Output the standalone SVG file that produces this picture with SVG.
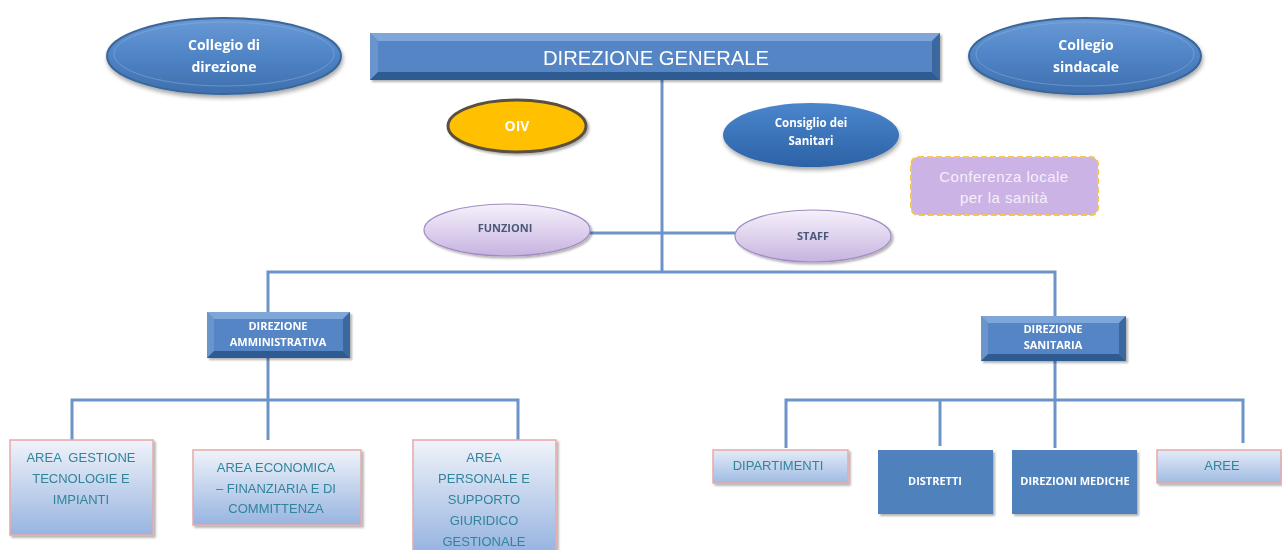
<svg xmlns="http://www.w3.org/2000/svg" width="1282" height="550" viewBox="0 0 1282 550">
<defs>
<linearGradient id="gBlueEll" x1="0" y1="0" x2="0" y2="1">
<stop offset="0" stop-color="#6a9ad6"/><stop offset="0.5" stop-color="#4f84c6"/><stop offset="1" stop-color="#3f6fae"/>
</linearGradient>
<linearGradient id="gBlueDark" x1="0" y1="0" x2="0" y2="1">
<stop offset="0" stop-color="#4b86cc"/><stop offset="1" stop-color="#2c62a6"/>
</linearGradient>
<linearGradient id="gLav" x1="0" y1="0" x2="0" y2="1">
<stop offset="0" stop-color="#f6f1fb"/><stop offset="1" stop-color="#c7b3e0"/>
</linearGradient>
<linearGradient id="gArea" x1="0" y1="0" x2="0" y2="1">
<stop offset="0" stop-color="#f0f3fa"/><stop offset="1" stop-color="#97b4e0"/>
</linearGradient>
<linearGradient id="gAreaS" x1="0" y1="0" x2="0" y2="1">
<stop offset="0" stop-color="#e4ebf7"/><stop offset="1" stop-color="#9fbbe3"/>
</linearGradient>
<filter id="sh" x="-20%" y="-20%" width="140%" height="150%">
<feDropShadow dx="1" dy="3" stdDeviation="2" flood-color="#000" flood-opacity="0.35"/>
</filter>
<filter id="shs" x="-10%" y="-10%" width="130%" height="130%">
<feDropShadow dx="2" dy="2" stdDeviation="1.2" flood-color="#000" flood-opacity="0.3"/>
</filter>
</defs>
<style>
.ln{fill:none;stroke:#6c94c8;stroke-width:3}
.tw{fill:#ffffff;font-family:"Open Sans","Liberation Sans",sans-serif;font-weight:bold;text-anchor:middle}
.tf{fill:#4a5878;font-family:"Open Sans","Liberation Sans",sans-serif;font-weight:bold;text-anchor:middle;font-size:11px}
.ta{fill:#31849b;font-family:"Liberation Sans",sans-serif;text-anchor:middle;font-size:13px;white-space:pre}
.area{fill:url(#gArea);stroke:#e7a9a9;stroke-width:1.5}
.bev-c{fill:#5585c4}
.bev-t{fill:#7ea6d9}
.bev-l{fill:#6a95cc}
.bev-b{fill:#2e5c92}
.bev-r{fill:#3a689f}
</style>
<rect width="1282" height="550" fill="#ffffff"/>

<g id="connectors">
<line class="ln" x1="662" y1="80" x2="662" y2="273"/>
<line class="ln" x1="590" y1="233" x2="737" y2="233"/>
<polyline class="ln" points="268,312 268,272 1055,272 1055,316"/>
<line class="ln" x1="268" y1="358" x2="268" y2="440"/>
<polyline class="ln" points="72,440 72,400 518,400 518,440"/>
<line class="ln" x1="1055" y1="361" x2="1055" y2="448"/>
<polyline class="ln" points="786,448 786,400 1243,400 1243,443"/>
<line class="ln" x1="940" y1="400" x2="940" y2="446"/>
</g>

<g id="collegio-direzione" filter="url(#sh)">
<ellipse cx="224" cy="56" rx="117" ry="38" fill="url(#gBlueEll)" stroke="#3b6698" stroke-width="2"/>
<ellipse cx="224" cy="54" rx="110" ry="32" fill="none" stroke="#8cb2e2" stroke-width="1" opacity="0.5"/>
<text class="tw" x="224" y="50" font-size="14">Collegio di</text>
<text class="tw" x="224" y="72" font-size="14">direzione</text>
</g>

<g id="direzione-generale" filter="url(#shs)">
<rect class="bev-c" x="370" y="33" width="570" height="47"/>
<polygon class="bev-t" points="370,33 940,33 932,41 378,41"/>
<polygon class="bev-l" points="370,33 378,41 378,72 370,80"/>
<polygon class="bev-b" points="370,80 940,80 932,72 378,72"/>
<polygon class="bev-r" points="940,33 940,80 932,72 932,41"/>
<text x="656" y="65" font-size="21" fill="#ffffff" text-anchor="middle" font-family="'Liberation Sans',sans-serif" textLength="226" lengthAdjust="spacingAndGlyphs">DIREZIONE GENERALE</text>
</g>

<g id="collegio-sindacale" filter="url(#sh)">
<ellipse cx="1085" cy="56" rx="116" ry="38" fill="url(#gBlueEll)" stroke="#3b6698" stroke-width="2"/>
<ellipse cx="1085" cy="54" rx="109" ry="32" fill="none" stroke="#8cb2e2" stroke-width="1" opacity="0.5"/>
<text class="tw" x="1086" y="50" font-size="14">Collegio</text>
<text class="tw" x="1086" y="72" font-size="14">sindacale</text>
</g>

<g id="oiv" filter="url(#shs)">
<ellipse cx="517" cy="126" rx="69" ry="26" fill="#ffc000" stroke="#5a5040" stroke-width="3"/>
<text class="tw" x="517" y="131" font-size="14">OIV</text>
</g>

<g id="consiglio-sanitari" filter="url(#sh)">
<ellipse cx="811" cy="135" rx="88" ry="32" fill="url(#gBlueDark)"/>
<text class="tw" x="811" y="127" font-size="11.5">Consiglio dei</text>
<text class="tw" x="811" y="145" font-size="11.5">Sanitari</text>
</g>

<g id="conferenza">
<rect x="911" y="157" width="187" height="58" rx="7" fill="#ccb3e6" stroke="#f6c64e" stroke-width="2" stroke-dasharray="6,3"/>
<text x="1004" y="182" font-size="15" fill="#f4f0f8" text-anchor="middle" font-family="'Liberation Sans',sans-serif" letter-spacing="0.5">Conferenza locale</text>
<text x="1004" y="203" font-size="15" fill="#f4f0f8" text-anchor="middle" font-family="'Liberation Sans',sans-serif" letter-spacing="0.5">per la sanità</text>
</g>

<g id="funzioni" filter="url(#shs)">
<ellipse cx="507" cy="230" rx="83" ry="26" fill="url(#gLav)" stroke="#a08cc4" stroke-width="1.2"/>
<text class="tf" x="505" y="232">FUNZIONI</text>
</g>

<g id="staff" filter="url(#shs)">
<ellipse cx="813" cy="236" rx="78" ry="26" fill="url(#gLav)" stroke="#a08cc4" stroke-width="1.2"/>
<text class="tf" x="813" y="240">STAFF</text>
</g>

<g id="direzione-amministrativa" filter="url(#shs)">
<rect class="bev-c" x="207" y="312" width="143" height="46"/>
<polygon class="bev-t" points="207,312 350,312 343,319 214,319"/>
<polygon class="bev-l" points="207,312 214,319 214,351 207,358"/>
<polygon class="bev-b" points="207,358 350,358 343,351 214,351"/>
<polygon class="bev-r" points="350,312 350,358 343,351 343,319"/>
<text class="tw" x="278" y="330" font-size="11">DIREZIONE</text>
<text class="tw" x="278" y="346" font-size="11">AMMINISTRATIVA</text>
</g>

<g id="direzione-sanitaria" filter="url(#shs)">
<rect class="bev-c" x="981" y="316" width="145" height="45"/>
<polygon class="bev-t" points="981,316 1126,316 1119,323 988,323"/>
<polygon class="bev-l" points="981,316 988,323 988,354 981,361"/>
<polygon class="bev-b" points="981,361 1126,361 1119,354 988,354"/>
<polygon class="bev-r" points="1126,316 1126,361 1119,354 1119,323"/>
<text class="tw" x="1053" y="333" font-size="11">DIREZIONE</text>
<text class="tw" x="1053" y="349" font-size="11">SANITARIA</text>
</g>

<g id="area-gestione" filter="url(#shs)">
<rect class="area" x="10" y="440" width="143" height="95"/>
<text class="ta" x="81" y="462" xml:space="preserve">AREA  GESTIONE</text>
<text class="ta" x="81" y="483">TECNOLOGIE E</text>
<text class="ta" x="81" y="504">IMPIANTI</text>
</g>

<g id="area-economica" filter="url(#shs)">
<rect class="area" x="193" y="450" width="168" height="75"/>
<text class="ta" x="276" y="472">AREA ECONOMICA</text>
<text class="ta" x="276" y="493">– FINANZIARIA E DI</text>
<text class="ta" x="276" y="513">COMMITTENZA</text>
</g>

<g id="area-personale" filter="url(#shs)">
<rect class="area" x="413" y="440" width="143" height="112"/>
<text class="ta" x="484" y="462">AREA</text>
<text class="ta" x="484" y="483">PERSONALE E</text>
<text class="ta" x="484" y="504">SUPPORTO</text>
<text class="ta" x="484" y="525">GIURIDICO</text>
<text class="ta" x="484" y="546">GESTIONALE</text>
</g>

<g id="dipartimenti" filter="url(#shs)">
<rect x="713" y="450" width="135" height="33" fill="url(#gAreaS)" stroke="#e7a9a9" stroke-width="1.5"/>
<text class="ta" x="778" y="470">DIPARTIMENTI</text>
</g>

<g id="distretti" filter="url(#shs)">
<rect x="878" y="450" width="115" height="64" fill="#4f81bd"/>
<text class="tw" x="935" y="485" font-size="11">DISTRETTI</text>
</g>

<g id="direzioni-mediche" filter="url(#shs)">
<rect x="1012" y="450" width="125" height="64" fill="#4f81bd"/>
<text class="tw" x="1075" y="485" font-size="11">DIREZIONI MEDICHE</text>
</g>

<g id="aree" filter="url(#shs)">
<rect x="1157" y="450" width="124" height="33" fill="url(#gAreaS)" stroke="#e7a9a9" stroke-width="1.5"/>
<text class="ta" x="1222" y="470">AREE</text>
</g>
</svg>
